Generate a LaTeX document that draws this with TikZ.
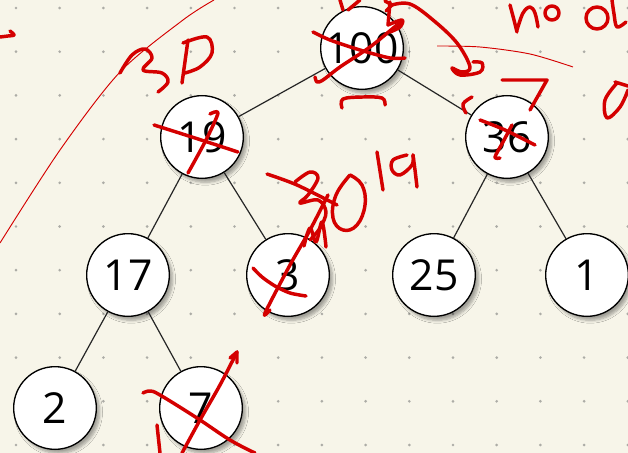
\documentclass[tikz,border=0pt]{standalone}
\usepackage{fontspec}
\setmainfont{Open Sans}
\usetikzlibrary{shadows.blur}
\definecolor{paper}{RGB}{247,245,233}
\definecolor{griddot}{RGB}{172,172,166}
\definecolor{pen}{RGB}{212,0,0}

\begin{document}
\begin{tikzpicture}[
  x=0.75pt, y=-0.75pt,
  hnode/.style={circle, draw=black, line width=1pt, fill=white, minimum size=62pt,
                inner sep=0pt, font=\fontsize{32}{38}\selectfont,
                blur shadow={shadow xshift=2.5pt, shadow yshift=-3pt,
                             shadow blur steps=6, shadow opacity=35}},
  edge/.style={draw=black!85, line width=0.9pt},
  ink/.style={draw=pen, line width=2.6pt, line cap=round, line join=round},
  hair/.style={draw=pen, line width=0.7pt}
]
% paper and dot grid
\fill[paper] (0,0) rectangle (628,453);
\useasboundingbox (0,0) rectangle (628,453);
\foreach \i in {0,...,14}
  \foreach \j in {0,...,10}
    \fill[griddot] (16+43.7*\i, 8+43.7*\j) circle (1.1pt);

% heap
\node[hnode] (n100) at (362,48)  {100};
\node[hnode] (n19)  at (202,137) {19};
\node[hnode] (n36)  at (507,137) {36};
\node[hnode] (n17)  at (128,275) {17};
\node[hnode] (n3)   at (288,275) {3};
\node[hnode] (n25)  at (434,275) {25};
\node[hnode] (n1)   at (587,275) {1};
\node[hnode] (n2)   at (55,408)  {2};
\node[hnode] (n7)   at (201,408) {7};

\foreach \a/\b in {n100/n19, n100/n36, n19/n17, n19/n3, n36/n25, n36/n1, n17/n2, n17/n7}
  \draw[edge] (\a) -- (\b);

% red pen scribbles
\draw[hair] plot[smooth] coordinates {(0,243) (60,150) (120,72) (183,20) (214,0)};
\draw[hair] plot[smooth] coordinates {(437,46) (480,47) (530,54) (573,67)};
\draw[ink] plot[smooth] coordinates {(0,37) (8,36) (14,35) (10,31)};

% 30 at left
\draw[ink] plot[smooth, tension=0.6] coordinates {(120,73) (132,55) (145,49) (152,58) (143,70) (162,73) (168,82) (158,92)};
\draw[ink] (188,40) -- (182,83);
\draw[ink] plot[smooth, tension=0.6] coordinates {(183,43) (207,37) (212,53) (200,67) (185,73)};

% root crossed out
\draw[ink] plot[smooth] coordinates {(313,32) (330,40) (360,50) (390,58) (405,58)};
\draw[ink] plot[smooth] coordinates {(315,77) (317,82) (323,80) (340,67) (370,47) (397,25) (402,22)};
\draw[ink] (340,0) -- (343,10);
\draw[ink] (348,10) -- (360,0);
\draw[ink] (390,2) -- (388,25);
\draw[ink] plot[smooth, tension=0.6] coordinates {(388,25) (402,20) (400,27) (390,32)};
\draw[ink] plot[smooth, tension=0.6] coordinates {(342,108) (343,99) (363,97) (382,98) (385,105)};

% swap arrow
\draw[ink] plot[smooth, tension=0.6] coordinates {(392,5) (410,4) (433,20) (457,43) (470,67) (462,72) (452,68) (460,75) (480,72) (482,63) (473,62)};
\draw[ink] (385,1) -- (392,5) -- (386,11);

% nodes, top right
\draw[ink] plot[smooth, tension=0.6] coordinates {(510,5) (514,20) (517,32)};
\draw[ink] plot[smooth, tension=0.6] coordinates {(517,30) (523,13) (530,7) (535,13) (538,27)};
\draw[ink] (552,13) circle (7);
\draw[ink] (597,18) circle (11);
\draw[ink] plot[smooth, tension=0.6] coordinates {(612,0) (614,14) (617,27) (626,22)};
\draw[ink] plot[smooth, tension=0.6] coordinates {(617,83) (605,100) (607,118) (620,107) (628,90)};
\draw[ink] (615,82) -- (628,86);

% 36 becomes 7
\draw[ink] (502,80) -- (547,80) -- (530,110);
\draw[ink] plot[smooth, tension=0.6] coordinates {(472,97) (463,104) (466,113)};
\draw[ink] plot[smooth] coordinates {(480,120) (505,130) (535,145)};
\draw[ink] plot[smooth] coordinates {(512,125) (503,142) (495,157) (500,158)};

% 19 crossed out
\draw[ink] plot[smooth] coordinates {(154,125) (195,138) (238,152)};
\draw[ink] plot[smooth] coordinates {(210,114) (218,113) (206,140) (188,173)};

% 30 19 in the middle
\draw[ink] plot[smooth] coordinates {(267,174) (297,185) (337,205)};
\draw[ink] plot[smooth, tension=0.6] coordinates {(295,182) (310,172) (318,178) (308,195) (300,203) (318,200) (326,212) (320,228) (310,240)};
\draw[ink] plot[smooth, tension=0.7] coordinates {(350,175) (362,185) (365,205) (357,225) (343,230) (333,218) (336,195) (350,175)};
\draw[ink] plot[smooth, tension=0.6] coordinates {(304,246) (310,228) (316,242) (322,222) (326,247)};
\draw[ink] (377,152) -- (383,190);
\draw[ink] plot[smooth, tension=0.6] coordinates {(407,155) (393,160) (392,170) (400,175) (412,165) (413,155)};
\draw[ink] plot[smooth] coordinates {(413,155) (415,170) (417,187)};

% 3 crossed out
\draw[ink] plot[smooth] coordinates {(328,195) (310,230) (290,265) (265,313) (270,310)};
\draw[ink] plot[smooth] coordinates {(253,268) (262,277) (275,286) (290,293) (306,296)};

% 7 crossed out
\draw[ink] plot[smooth] coordinates {(182,453) (200,420) (220,385) (237,352)};
\draw[ink] (230,358) -- (237,352) -- (237,363);
\draw[ink] plot[smooth, tension=0.6] coordinates {(143,393) (150,391) (160,395) (197,418) (230,440) (255,453)};
\draw[ink] (157,425) -- (160,453);
\end{tikzpicture}
\end{document}
